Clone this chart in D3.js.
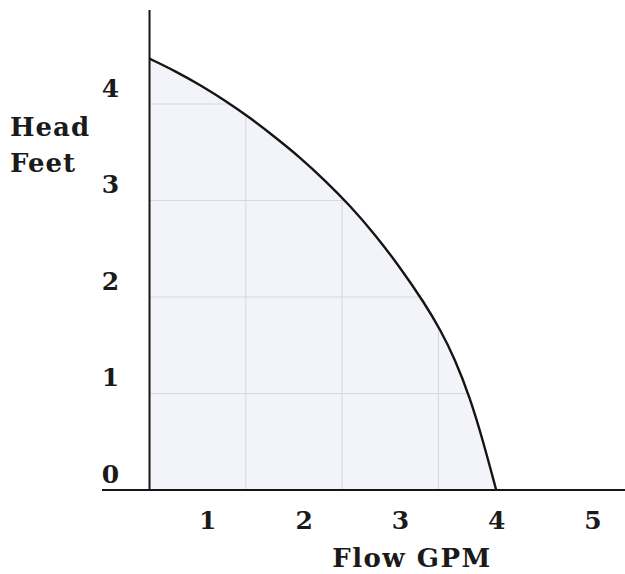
<!DOCTYPE html>
<html>
<head>
<meta charset="utf-8">
<script src="https://cdn.jsdelivr.net/npm/d3@7"></script>
<style>
  html, body { margin: 0; padding: 0; background: #ffffff; }
  svg { display: block; }
  text { font-family: "DejaVu Serif", serif; font-weight: bold; fill: #1a1a1a; }
</style>
</head>
<body>
<svg id="chart" width="625" height="574"></svg>
<script>
// ---- data ----
const flowGPM  = [0.4, 0.67, 0.92, 1.18, 1.44, 1.7, 1.96, 2.22, 2.48, 2.74, 3.0, 3.26, 3.42, 3.57, 3.73, 3.86, 4.0];
const headFeet = [4.47, 4.34, 4.2, 4.04, 3.86, 3.66, 3.45, 3.21, 2.95, 2.65, 2.31, 1.93, 1.66, 1.36, 0.95, 0.52, 0];
const xTickValues = [1, 2, 3, 4, 5];
const yTickValues = [0, 1, 2, 3, 4];
const xGridValues = [1.4, 2.4, 3.4];
const yGridValues = [1, 2, 3, 4];
const xTitle = "Flow GPM";
const yTitleLines = ["Head", "Feet"];

const points = flowGPM.map((f, i) => ({ flow: f, head: headFeet[i] }));

const svg = d3.select("#chart");

const x = d3.scaleLinear().domain([0, 5]).range([111, 592.5]);
const y = d3.scaleLinear().domain([0, 4]).range([490, 104]);

const xAxisStart = 0.4;

const area = d3.area()
  .x(d => x(d.flow))
  .y0(y(0))
  .y1(d => y(d.head))
  .curve(d3.curveBasis);

const line = d3.line()
  .x(d => x(d.flow))
  .y(d => y(d.head))
  .curve(d3.curveBasis);

svg.append("defs").append("clipPath").attr("id", "under")
  .append("path").attr("d", area(points));

svg.append("path")
  .attr("d", area(points))
  .attr("fill", "#f3f4f9");

// gridlines clipped to the filled region
const grid = svg.append("g").attr("clip-path", "url(#under)");
grid.selectAll("line.gx").data(xGridValues).enter().append("line")
  .attr("x1", d => x(d)).attr("x2", d => x(d))
  .attr("y1", y(0)).attr("y2", y(5))
  .attr("stroke", "#d4d7dd").attr("stroke-width", 1);
grid.selectAll("line.gy").data(yGridValues).enter().append("line")
  .attr("x1", x(xAxisStart)).attr("x2", x(5.5))
  .attr("y1", d => y(d)).attr("y2", d => y(d))
  .attr("stroke", "#d4d7dd").attr("stroke-width", 1);

// curve
svg.append("path")
  .attr("d", line(points))
  .attr("fill", "none")
  .attr("stroke", "#151515")
  .attr("stroke-width", 2.4);

// x axis (bottom)
const xAxis = d3.axisBottom(x)
  .tickValues(xTickValues)
  .tickFormat(d3.format("d"))
  .tickSize(0)
  .tickPadding(0);
const gx = svg.append("g").attr("transform", `translate(0,${y(0)})`).call(xAxis);
gx.select(".domain").remove();
gx.selectAll("text")
  .attr("dy", null)
  .attr("y", 39)
  .style("font-size", "25px")
  .style("font-family", '"DejaVu Serif", serif')
  .style("font-weight", "bold")
  .attr("fill", "#1a1a1a");

svg.append("line")
  .attr("x1", 102).attr("x2", 625)
  .attr("y1", y(0)).attr("y2", y(0))
  .attr("stroke", "#151515").attr("stroke-width", 2);

// y axis (left)
const yAxis = d3.axisLeft(y)
  .tickValues(yTickValues)
  .tickFormat(d3.format("d"))
  .tickSize(0)
  .tickPadding(0);
const gy = svg.append("g").attr("transform", `translate(${x(xAxisStart)},0)`).call(yAxis);
gy.select(".domain").remove();
gy.selectAll("text")
  .attr("dy", null)
  .attr("x", -39)
  .attr("y", -8)
  .attr("text-anchor", "middle")
  .style("font-size", "25px")
  .style("font-family", '"DejaVu Serif", serif')
  .style("font-weight", "bold")
  .attr("fill", "#1a1a1a");

svg.append("line")
  .attr("x1", x(xAxisStart)).attr("x2", x(xAxisStart))
  .attr("y1", 10).attr("y2", y(0))
  .attr("stroke", "#151515").attr("stroke-width", 2);

// titles
svg.append("text")
  .attr("x", 412).attr("y", 567)
  .attr("text-anchor", "middle")
  .style("font-size", "26px")
  .style("letter-spacing", "1.5px")
  .text(xTitle);

svg.selectAll("text.ytitle").data(yTitleLines).enter().append("text")
  .attr("class", "ytitle")
  .attr("x", 10)
  .attr("y", (d, i) => 136 + i * 36)
  .style("font-size", "26px")
  .style("letter-spacing", "1px")
  .text(d => d);
</script>
</body>
</html>
